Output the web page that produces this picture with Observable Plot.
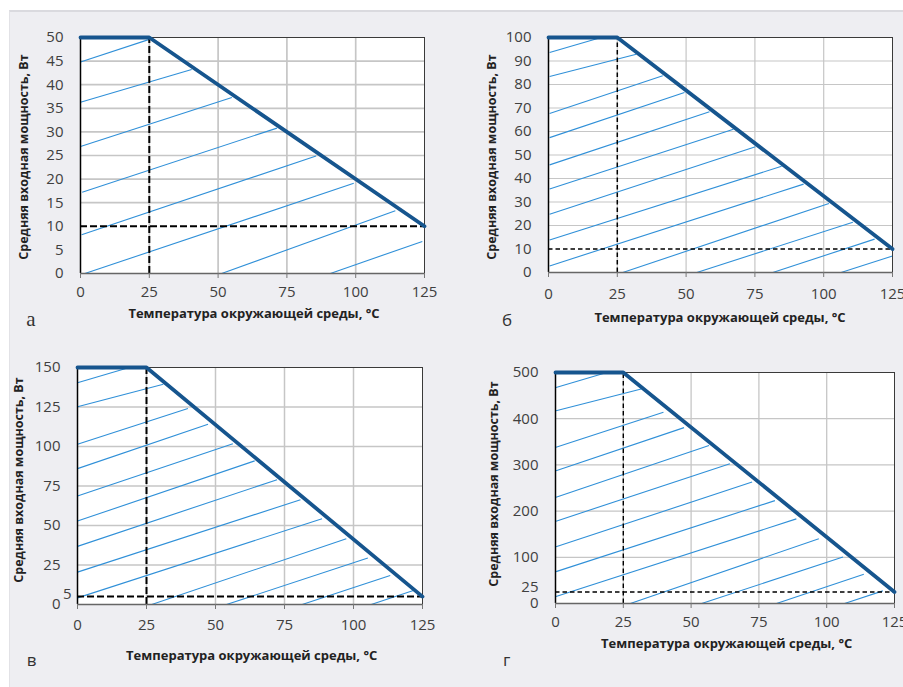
<!DOCTYPE html>
<html>
<head>
<meta charset="utf-8">
<script src="https://cdn.jsdelivr.net/npm/d3@7"></script>
<script src="https://cdn.jsdelivr.net/npm/@observablehq/plot@0.6"></script>
<style>
html, body { margin: 0; padding: 0; background: #ffffff; overflow: hidden; }
#fig { position: relative; width: 903px; height: 687px; overflow: hidden; }
#bg { position: absolute; left: 9px; top: 10px; width: 894px; height: 677px; background: #EEEEF2; border-top: 2px solid #DADADF; border-left: 1px solid #E2E2E6; box-sizing: border-box; }
.panel { position: absolute; }
.xt { position: absolute; font: bold 13px "Open Sans", sans-serif; color: #222; white-space: nowrap; transform: translate(-50%, -50%); }
.yt { position: absolute; font: bold 12.5px "Open Sans", sans-serif; color: #222; white-space: nowrap; transform: translate(-50%, -50%) rotate(-90deg); }
.lt { position: absolute; font: 17px "Open Sans", sans-serif; color: #333; transform: translate(-50%, -50%); }
</style>
</head>
<body>
<div id="fig"><div id="bg"></div></div>
<script>
// ---------- data ----------
const panelLetters = ["а", "б", "в", "г"];
const xTitle = "Температура окружающей среды, °C";
const yTitle = "Средняя входная мощность, Вт";
const xTicks = [0, 25, 50, 75, 100, 125];

// derating curves: temperature points and power values
const curveT = [0, 25, 125];
const curveA = [50, 50, 10];
const curveB = [100, 100, 10];
const curveV = [150, 150, 5];
const curveG = [500, 500, 25];

// y tick values
const yTicksA = [0, 5, 10, 15, 20, 25, 30, 35, 40, 45, 50];
const yTicksB = [0, 10, 20, 30, 40, 50, 60, 70, 80, 90, 100];
const yTicksV = [0, 25, 50, 75, 100, 125, 150];
const yTicksVextra = [5];
const yTicksG = [0, 100, 200, 300, 400, 500];
const yTicksGextra = [25];

// hatch segments [t1, p1, t2, p2]
const hatchA = [
  [0, 44.8, 25, 49.6], [0, 36.3, 40.4, 43.2], [0, 26.9, 55, 37.3], [0.6, 17.2, 71.4, 30.8],
  [0.4, 8.2, 85.6, 24.9], [1.6, 0, 99.3, 19.1], [51.3, 0, 114.4, 13.3], [90.8, 0, 124.2, 6.8]
];
const hatchB = [
  [0.4, 93.6, 19.1, 100], [0.4, 83.4, 31.9, 92.9], [0.4, 67.7, 41.5, 83.7], [0.4, 57.4, 49.4, 76.6],
  [0.4, 45.8, 58.5, 68.4], [0.4, 35.5, 67.2, 61], [0.4, 24.8, 75.2, 53.5], [0.4, 13.8, 84.7, 45.2],
  [0.4, 2.8, 92.7, 37.6], [27, 0, 101.9, 29.4], [53.9, 0, 110.6, 21.4], [81.5, 0, 118.5, 14.2],
  [106.3, 0, 125, 7]
];
const hatchV = [
  [0, 140.3, 17.5, 149.4], [0, 125.1, 31.1, 139.4], [0, 101.4, 40, 124], [0, 86, 47.3, 114.1],
  [0, 68.7, 56.3, 101.8], [0, 52.8, 64.2, 90.9], [0, 36.8, 72.3, 79], [0, 20.5, 80.8, 66.3],
  [0, 4.2, 88.6, 54.3], [26.9, 0, 97.4, 41.6], [54, 0, 105.2, 29.4], [81.4, 0, 113.3, 18.4],
  [106.4, 0, 121.7, 8.9]
];
const hatchG = [
  [0.2, 467.7, 18.9, 500], [0.2, 417.4, 31.6, 464.1], [0.2, 338.4, 39.8, 413.8], [0.2, 287.4, 47.4, 380.7],
  [0.2, 229.9, 56.6, 341.9], [0.2, 178.2, 64.3, 302.4], [0.2, 122.8, 72.5, 262.9], [0.2, 69, 80.9, 222.7],
  [0.2, 15.1, 88.8, 183.2], [27.6, 0, 97.1, 140.1], [53.9, 0, 106, 100.6], [81.5, 0, 113.7, 63.2],
  [106.6, 0, 120.7, 27.3]
];

// ---------- layout ----------
const panels = [
  { curve: curveA, yTicks: yTicksA, extra: [], hatch: hatchA,
    left: 0, top: 0, w: 450, h: 300, ml: 80, mr: 26, mt: 37, mb: 27, xPad: 8,
    dash: "7,3", dashW: 2, gridW: 1.7,
    xt: [254, 313], yt: [22.7, 157], lt: [31, 319], serifLetter: true },
  { curve: curveB, yTicks: yTicksB, extra: [], hatch: hatchB,
    left: 460, top: 0, w: 443, h: 300, ml: 88, mr: 11, mt: 37, mb: 28, xPad: 10.5,
    dash: "4.5,3", dashW: 1.5, gridW: 1.2,
    xt: [720, 317], yt: [490.7, 157], lt: [507, 319] },
  { curve: curveV, yTicks: yTicksV, extra: yTicksVextra, extraPad: 6, extraDy: -2, hatch: hatchV,
    left: 0, top: 340, w: 450, h: 300, ml: 77, mr: 28, mt: 27, mb: 36, xPad: 9.5,
    dash: "7,3", dashW: 2, gridW: 1.5,
    xt: [251.7, 655], yt: [18.3, 480], lt: [31.7, 659] },
  { curve: curveG, yTicks: yTicksG, extra: yTicksGextra, extraPad: 17, extraDy: -5, hatch: hatchG,
    left: 460, top: 340, w: 443, h: 300, ml: 95, mr: 9, mt: 32, mb: 37, xPad: 8,
    dash: "4.5,3", dashW: 1.4, gridW: 1.3,
    xt: [726.7, 643], yt: [492.7, 484], lt: [506.7, 659] }
];

const fig = document.getElementById("fig");

panels.forEach((p, i) => {
  const yMax = p.curve[0];
  const yMin = p.curve[p.curve.length - 1];
  const pts = curveT.map((t, k) => ({ t, p: p.curve[k] }));
  const segs = p.hatch.map(([t1, p1, t2, p2]) => ({ t1, p1, t2, p2 }));
  const allTicks = p.yTicks.concat(p.extra);
  const gridYs = allTicks.filter(v => v > yMin && v < yMax);
  const marks = [
    Plot.frame({ fill: "white", stroke: null }),
    Plot.gridX(xTicks.filter(t => t > 0 && t < 125), { stroke: "#c6c6c6", strokeOpacity: 1, strokeWidth: p.gridW }),
    Plot.gridY(gridYs, { stroke: "#c6c6c6", strokeOpacity: 1, strokeWidth: p.gridW }),
    Plot.link(segs, { x1: "t1", y1: "p1", x2: "t2", y2: "p2", stroke: "#3090D8", strokeWidth: 1.1 }),
    Plot.ruleX([curveT[1]], { y1: 0, y2: yMax, stroke: "#000", strokeWidth: p.dashW, strokeDasharray: p.dash }),
    Plot.ruleY([yMin], { x1: 0, x2: 125, stroke: "#000", strokeWidth: p.dashW, strokeDasharray: p.dash }),
    Plot.frame({ stroke: "#3a3a3a", strokeWidth: 1 }),
    Plot.ruleX([0], { stroke: "#000", strokeWidth: 1.5 }),
    Plot.ruleY([0], { stroke: "#666", strokeWidth: 1.5 }),
    Plot.line(pts, { x: "t", y: "p", stroke: "#16558E", strokeWidth: 3.8, strokeLinejoin: "miter" }),
    Plot.axisX(xTicks, { tickSize: 5, tickPadding: p.xPad, label: null, stroke: "#777", fill: "#404040" }),
    Plot.axisY(p.yTicks, { tickSize: 0, tickPadding: 17, label: null, fill: "#404040" })
  ];
  if (p.extra.length) {
    marks.push(Plot.axisY(p.extra, { tickSize: 0, tickPadding: p.extraPad, dy: p.extraDy, label: null, fill: "#404040" }));
  }
  const svg = Plot.plot({
    width: p.w, height: p.h,
    marginLeft: p.ml, marginRight: p.mr, marginTop: p.mt, marginBottom: p.mb,
    style: { background: "transparent", fontFamily: "'Open Sans', sans-serif", fontSize: "15px", overflow: "visible" },
    x: { domain: [0, 125] },
    y: { domain: [0, yMax] },
    marks
  });
  svg.classList.add("panel");
  svg.style.left = p.left + "px";
  svg.style.top = p.top + "px";
  svg.style.position = "absolute";
  fig.appendChild(svg);

  const xt = document.createElement("div");
  xt.className = "xt"; xt.textContent = xTitle;
  xt.style.left = p.xt[0] + "px"; xt.style.top = p.xt[1] + "px";
  fig.appendChild(xt);

  const yt = document.createElement("div");
  yt.className = "yt"; yt.textContent = yTitle;
  yt.style.left = p.yt[0] + "px"; yt.style.top = p.yt[1] + "px";
  fig.appendChild(yt);

  const lt = document.createElement("div");
  lt.className = "lt"; lt.textContent = panelLetters[i];
  lt.style.left = p.lt[0] + "px"; lt.style.top = p.lt[1] + "px";
  if (p.serifLetter) { lt.style.fontFamily = "'Liberation Serif', serif"; lt.style.fontSize = "21px"; }
  fig.appendChild(lt);
});
</script>
</body>
</html>
